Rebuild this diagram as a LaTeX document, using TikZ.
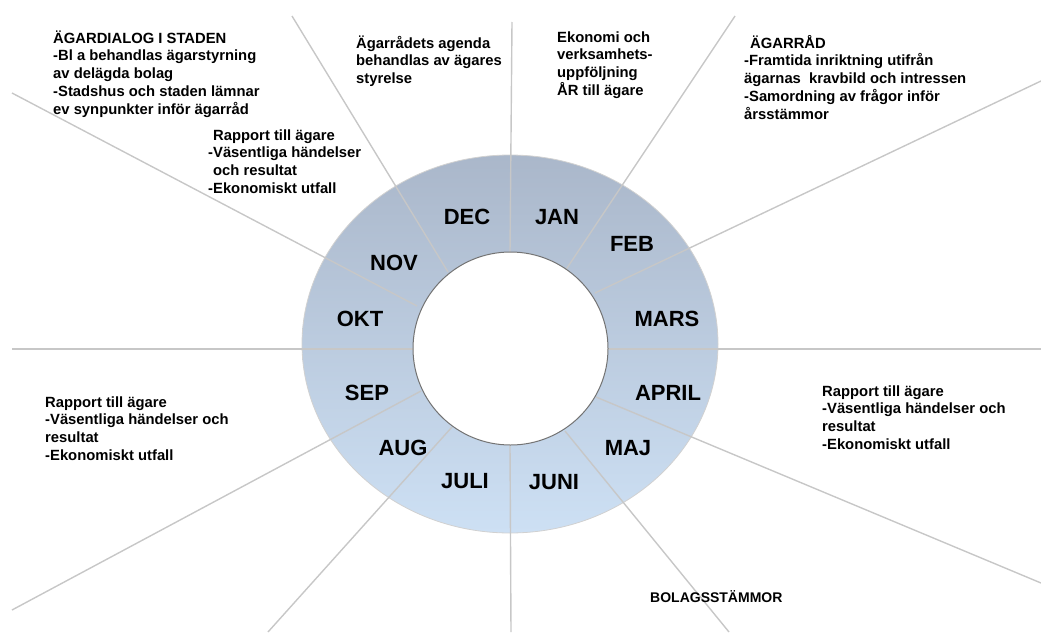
\documentclass[tikz,border=0pt]{standalone}
\usepackage{fontspec}
\setmainfont{Liberation Sans}
\begin{document}
\begin{tikzpicture}[x=1pt,y=-1pt,
  spoke/.style={draw=black!22, line width=1.4pt},
  month/.style={font=\fontsize{22}{26}\selectfont\bfseries, inner sep=0pt, anchor=center},
  note/.style={font=\fontsize{14.8}{17.8}\selectfont\bfseries, inner sep=0pt, anchor=base west, align=left}]
\useasboundingbox (0,0) rectangle (1041,632);
% ring
\shade[top color={rgb,255:red,170;green,183;blue,202}, middle color={rgb,255:red,180;green,204;blue,231}, bottom color={rgb,255:red,205;green,224;blue,244}, shading=axis]
  (510,344) ellipse [x radius=208, y radius=189];
\draw[draw=black!18, line width=0.8pt] (510,344) ellipse [x radius=208, y radius=189];
% spokes
\draw[spoke] (510,252) -- (512,22);
\draw[spoke] (448,272) -- (292,16);
\draw[spoke] (417,306) -- (12,93);
\draw[spoke] (413,349) -- (12,349);
\draw[spoke] (421,391) -- (12,610);
\draw[spoke] (452,427) -- (268,632);
\draw[spoke] (510,445) -- (511,632);
\draw[spoke] (565,431) -- (729,632);
\draw[spoke] (596,397) -- (1041,583);
\draw[spoke] (608,349) -- (1041,349);
\draw[spoke] (595,293) -- (1041,81);
\draw[spoke] (565,271) -- (735,16);
% hole
\draw[fill=white, draw=black!55, line width=1pt] (510.5,348.5) ellipse [x radius=97.5, y radius=96.5];
% months
\node[month] (dec) at (467,217) {DEC};
\node[month] (jan) at (557,217) {JAN};
\node[month] (feb) at (632,244) {FEB};
\node[month] (nov) at (394,263) {NOV};
\node[month] (okt) at (360,319) {OKT};
\node[month] (mars) at (667,319) {MARS};
\node[month] (sep) at (367,393) {SEP};
\node[month] (april) at (668,393) {APRIL};
\node[month] (aug) at (403,448) {AUG};
\node[month] (maj) at (628,448) {MAJ};
\node[month] (juli) at (465,481) {JULI};
\node[month] (juni) at (554,482) {JUNI};
% notes (anchor = baseline of last line)
\node[note] (dialog) at (53,114.2) {ÄGARDIALOG I STADEN\\-Bl a behandlas ägarstyrning\\av delägda bolag\\-Stadshus och staden lämnar\\ev synpunkter inför ägarråd};
\node[note] (rapnov) at (208,193.4) {\hspace*{5pt}Rapport till ägare\\-Väsentliga händelser\\\hspace*{5pt}och resultat\\-Ekonomiskt utfall};
\node[note] (agenda) at (356,83.6) {Ägarrådets agenda\\behandlas av ägares\\styrelse};
\node[note] (ekonomi) at (557,95.4) {Ekonomi och\\verksamhets-\\uppföljning\\ÅR till ägare};
\node[note] (agarrad) at (744,119.2) {\hspace*{6pt}ÄGARRÅD\\-Framtida inriktning utifrån\\ägarnas\ \ kravbild och intressen\\-Samordning av frågor inför\\årsstämmor};
\node[note] (rapsep) at (45,460.4) {Rapport till ägare\\-Väsentliga händelser och\\resultat\\-Ekonomiskt utfall};
\node[note] (rapapr) at (822,449.4) {Rapport till ägare\\-Väsentliga händelser och\\resultat\\-Ekonomiskt utfall};
\node[note, font=\fontsize{14}{17}\selectfont\bfseries] (stamma) at (650,602) {BOLAGSSTÄMMOR};
\end{tikzpicture}
\end{document}
